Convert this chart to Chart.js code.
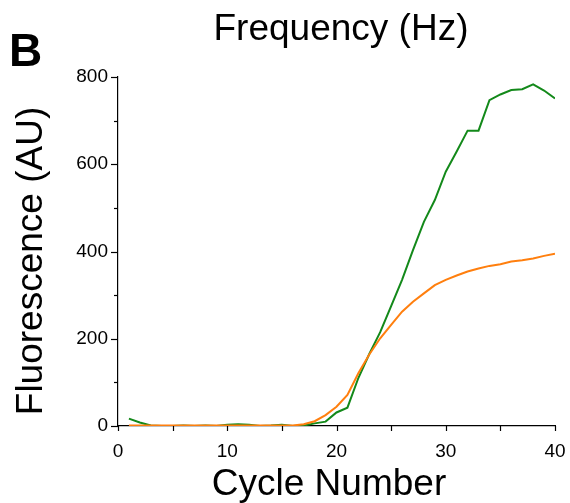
<!DOCTYPE html>
<html>
<head>
<meta charset="utf-8">
<script src="https://cdn.jsdelivr.net/npm/chart.js@4/dist/chart.umd.min.js"></script>
<style>
  html, body { margin: 0; padding: 0; background: #fff; }
  canvas { display: block; }
</style>
</head>
<body>
<canvas id="qpcrChart" width="570" height="503"></canvas>
<script>
  // Ciclos e fluorescência (AU) de cada curva
  const ciclos = [1,2,3,4,5,6,7,8,9,10,11,12,13,14,15,16,17,18,19,20,
                  21,22,23,24,25,26,27,28,29,30,31,32,33,34,35,36,37,38,39,40];
  const curvaVerde = [17,8,1,0,0,1,0,1,0,3,4,3,0,1,3,0,1,6,10,31,
                      42,110,165,215,275,335,403,468,518,583,629,677,677,747,760,770,772,783,769,751];
  const curvaLaranja = [1,1,1,1,1,1,1,1,1,1,1,1,1,1,1,1,4,11,25,44,
                        71,121,164,201,232,262,285,304,323,335,345,354,361,367,371,377,380,384,390,395];
  const ticksX = [0,10,20,30,40];
  const ticksY = [0,200,400,600,800];

  const fonte = "'Liberation Sans', Arial, sans-serif";

  function pontos(valores) {
    return ciclos.map((c, i) => ({ x: c, y: valores[i] }));
  }

  // Marcas dos eixos (maiores e menores) e textos grandes
  const extras = {
    id: 'extras',
    afterDraw(chart) {
      const ctx = chart.ctx;
      const area = chart.chartArea;
      const sx = chart.scales.x;
      const sy = chart.scales.y;
      ctx.save();
      ctx.strokeStyle = '#000';
      ctx.lineWidth = 1.2;
      sy.ticks.forEach(t => {
        const y = Math.round(sy.getPixelForValue(t.value)) + 0.5;
        const len = ticksY.includes(t.value) ? 7 : 4;
        ctx.beginPath();
        ctx.moveTo(area.left - len, y);
        ctx.lineTo(area.left, y);
        ctx.stroke();
      });
      sx.ticks.forEach(t => {
        const x = Math.round(sx.getPixelForValue(t.value)) + 0.5;
        ctx.beginPath();
        ctx.moveTo(x, area.bottom);
        ctx.lineTo(x, area.bottom + 5);
        ctx.stroke();
      });

      ctx.fillStyle = '#000';
      ctx.textBaseline = 'alphabetic';
      ctx.font = 'bold 46px ' + fonte;
      ctx.textAlign = 'left';
      ctx.fillText('B', 9, 66);

      ctx.font = '37px ' + fonte;
      ctx.textAlign = 'center';
      ctx.fillText('Frequency (Hz)', 341, 40);
      ctx.fillText('Cycle Number', 329, 495);

      ctx.translate(42, 261);
      ctx.rotate(-Math.PI / 2);
      ctx.fillText('Fluorescence (AU)', 0, 0);
      ctx.restore();
    }
  };

  const ctx = document.getElementById('qpcrChart').getContext('2d');
  new Chart(ctx, {
    type: 'line',
    data: {
      datasets: [
        {
          label: 'Laranja',
          data: pontos(curvaLaranja),
          borderColor: '#ff7f0e',
          borderWidth: 2,
          pointRadius: 0,
          tension: 0
        },
        {
          label: 'Verde',
          data: pontos(curvaVerde),
          borderColor: '#13891a',
          borderWidth: 2,
          pointRadius: 0,
          tension: 0
        }
      ]
    },
    options: {
      responsive: false,
      animation: false,
      layout: { padding: { left: 0, right: 15, top: 77, bottom: 0 } },
      plugins: {
        legend: { display: false },
        tooltip: { enabled: false }
      },
      scales: {
        x: {
          type: 'linear',
          min: 0,
          max: 40,
          afterFit: s => { s.height = 77; s.paddingLeft = 0; s.paddingRight = 0; },
          border: { color: '#000', width: 1.2 },
          grid: { drawOnChartArea: false, drawTicks: false },
          ticks: {
            stepSize: 5,
            padding: 14,
            color: '#000',
            font: { family: fonte, size: 19 },
            maxRotation: 0,
            callback: v => ticksX.includes(v) ? String(v) : ''
          }
        },
        y: {
          min: 0,
          max: 800,
          afterFit: s => { s.width = 118; s.paddingTop = 0; s.paddingBottom = 0; },
          border: { color: '#000', width: 1.2 },
          grid: { drawOnChartArea: false, drawTicks: false },
          ticks: {
            stepSize: 100,
            padding: 10,
            color: '#000',
            font: { family: fonte, size: 19 },
            callback: v => ticksY.includes(v) ? String(v) : ''
          }
        }
      }
    },
    plugins: [extras]
  });
</script>
</body>
</html>
